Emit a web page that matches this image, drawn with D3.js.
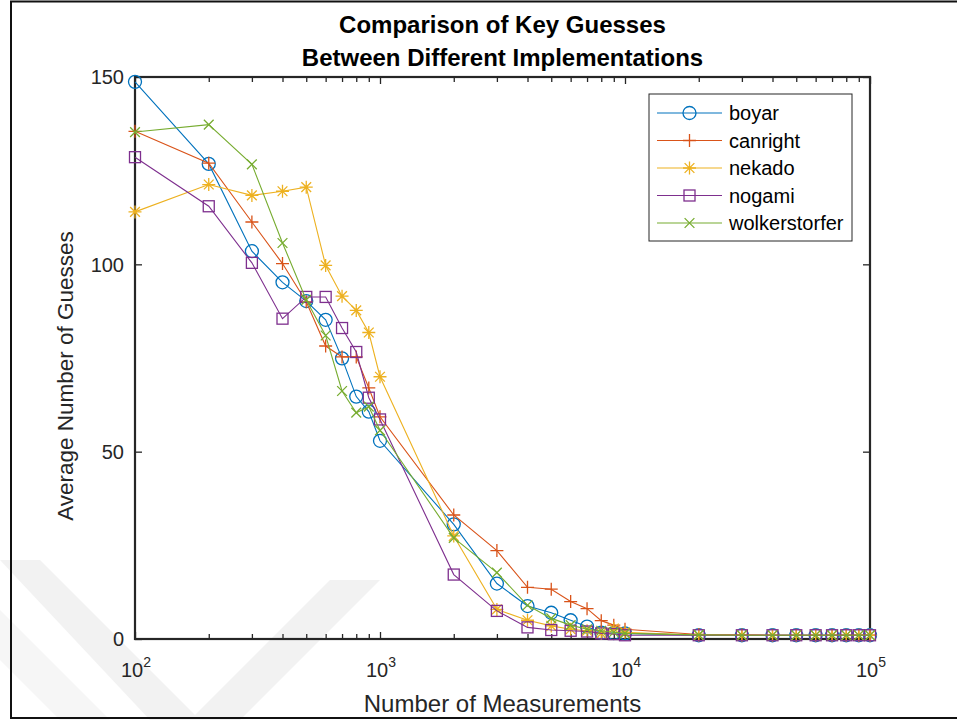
<!DOCTYPE html>
<html><head><meta charset="utf-8">
<script src="https://cdn.jsdelivr.net/npm/d3@7"></script>
<style>body{margin:0;background:#fff;} svg{display:block;font-family:"Liberation Sans",Arial,Helvetica,sans-serif;}</style>
</head><body>
<svg id="chart" width="957" height="720"></svg>
<script>
const measurements = [100,200,300,400,500,600,700,800,900,1000,2000,3000,4000,5000,6000,7000,8000,9000,10000,20000,30000,40000,50000,60000,70000,80000,90000,100000];
const boyar = [148.7,126.8,103.5,95.2,90.2,85.2,74.9,64.7,60.7,52.9,30.6,14.8,8.8,7.0,5.0,3.3,1.7,1.6,1.5,1,1,1,1,1,1,1,1,1];
const canright = [135.5,127.0,111.3,100.2,90.0,78.2,75.3,75.3,67.0,59.3,33.1,23.6,13.8,13.3,10.0,8.1,4.9,3.7,2.6,1.2,1.1,1,1,1,1,1,1,1];
const nekado = [114.0,121.3,118.4,119.5,120.6,99.7,91.5,87.7,81.8,70.0,27.5,7.9,5.0,3.5,2.6,2.2,1.5,2.8,1.8,1,1,1,1,1,1,1,1,1];
const nogami = [128.6,115.5,100.4,85.5,91.3,91.3,83.0,76.6,64.4,58.6,17.2,7.5,3.1,2.4,2.2,2.0,1.5,1.3,1.0,1,1,1,1,1,1,1,1,1];
const wolkerstorfer = [135.3,137.3,126.7,105.7,90.5,81.0,66.2,60.4,62.0,55.7,27.0,17.7,9.0,5.5,3.7,2.6,2.2,1.8,1.5,1.1,1,1,1,1,1,1,1,1];
const seriesNames = ["boyar","canright","nekado","nogami","wolkerstorfer"];
const seriesValues = [boyar,canright,nekado,nogami,wolkerstorfer];
const seriesColors = ["#0072BD","#D95319","#EDB120","#7E2F8E","#77AC30"];
const seriesMarkers = ["circle","plus","asterisk","square","cross"];
const yTicks = [0,50,100,150];
const xMajor = [100,1000,10000,100000];
const xExp = ["2","3","4","5"];
const titleLines = ["Comparison of Key Guesses","Between Different Implementations"];

const svg = d3.select("#chart");
const L=135,R=870,T=77,B=639;
const x = d3.scaleLog().domain([100,100000]).range([L,R]);
const y = d3.scaleLinear().domain([0,150]).range([B,T]);

// faint watermark
const wm = svg.append("g").attr("fill","#f2f2f2");
wm.append("path").attr("d","M0,560 L40,560 L200,720 L150,720 Z");
wm.append("path").attr("d","M190,720 L330,580 L380,580 L240,720 Z");
wm.append("path").attr("d","M0,610 L0,660 L60,720 L110,720 Z").attr("fill","#f6f6f6");

// outer frame
svg.append("rect").attr("x",11).attr("y",1.5).attr("width",960).attr("height",716.5)
  .attr("fill","none").attr("stroke","#111").attr("stroke-width",2);

// axes box and ticks
const minor = [];
for (let d=100; d<100000; d*=10) for (let k=2;k<=9;k++) minor.push(d*k);
const xb = d3.axisBottom(x).tickValues(xMajor).tickSizeInner(-7).tickSizeOuter(0).tickFormat("");
const xt = d3.axisTop(x).tickValues(xMajor).tickSizeInner(-7).tickSizeOuter(0).tickFormat("");
const xbm = d3.axisBottom(x).tickValues(minor).tickSizeInner(-5).tickSizeOuter(0).tickFormat("");
const xtm = d3.axisTop(x).tickValues(minor).tickSizeInner(-5).tickSizeOuter(0).tickFormat("");
const yl = d3.axisLeft(y).tickValues(yTicks).tickSizeInner(-7).tickSizeOuter(0).tickFormat("");
const yr = d3.axisRight(y).tickValues(yTicks).tickSizeInner(-7).tickSizeOuter(0).tickFormat("");
[[xb,`translate(0,${B})`],[xbm,`translate(0,${B})`],[xt,`translate(0,${T})`],[xtm,`translate(0,${T})`],[yl,`translate(${L},0)`],[yr,`translate(${R},0)`]].forEach(([a,tr])=>{
  const g = svg.append("g").attr("transform",tr).call(a);
  g.select(".domain").remove();
  g.selectAll("line").attr("stroke","#262626").attr("stroke-width",1.3);
});
svg.append("rect").attr("x",L).attr("y",T).attr("width",R-L).attr("height",B-T)
  .attr("fill","none").attr("stroke","#262626").attr("stroke-width",2.2);

// tick labels
const tl = svg.append("g").attr("fill","#262626").attr("font-size",20);
yTicks.forEach(v=>{
  tl.append("text").attr("x",L-11).attr("y",y(v)).attr("dy","0.36em").attr("text-anchor","end").text(v);
});
xMajor.forEach((v,i)=>{
  const t = tl.append("text").attr("x",x(v)+1).attr("y",677).attr("text-anchor","middle");
  t.append("tspan").text("10");
  t.append("tspan").attr("dy",-10).attr("font-size",14).text(xExp[i]);
});

// axis labels
svg.append("text").attr("x",(L+R)/2).attr("y",712).attr("text-anchor","middle").attr("font-size",24).attr("fill","#262626").text("Number of Measurements");
svg.append("text").attr("transform",`translate(73,376) rotate(-90)`).attr("text-anchor","middle").attr("font-size",22.5).attr("fill","#262626").text("Average Number of Guesses");
titleLines.forEach((s,i)=>{
  svg.append("text").attr("x",(L+R)/2).attr("y",33+i*33).attr("text-anchor","middle").attr("font-size",24).attr("font-weight","bold").attr("fill","#000").text(s);
});

// markers
function drawMarker(g, type, cx, cy, color){
  const s=6.5;
  if(type==="circle") g.append("circle").attr("cx",cx).attr("cy",cy).attr("r",6.5).attr("fill","none").attr("stroke",color).attr("stroke-width",1.3);
  else if(type==="square") g.append("rect").attr("x",cx-5.5).attr("y",cy-5.5).attr("width",11).attr("height",11).attr("fill","none").attr("stroke",color).attr("stroke-width",1.3);
  else {
    const p = d3.path();
    if(type==="plus"||type==="asterisk"){ p.moveTo(cx-s,cy);p.lineTo(cx+s,cy);p.moveTo(cx,cy-s);p.lineTo(cx,cy+s); }
    if(type==="cross"||type==="asterisk"){ const d=s*0.75; p.moveTo(cx-d,cy-d);p.lineTo(cx+d,cy+d);p.moveTo(cx-d,cy+d);p.lineTo(cx+d,cy-d); }
    g.append("path").attr("d",p.toString()).attr("fill","none").attr("stroke",color).attr("stroke-width",1.3);
  }
}

const plot = svg.append("g");
const line = d3.line().x(d=>x(d[0])).y(d=>y(d[1]));
seriesValues.forEach((vals,i)=>{
  const pts = measurements.map((m,j)=>[m,vals[j]]);
  const g = plot.append("g");
  g.append("path").attr("d",line(pts)).attr("fill","none").attr("stroke",seriesColors[i]).attr("stroke-width",1.1);
  pts.forEach(p=>drawMarker(g,seriesMarkers[i],x(p[0]),y(p[1]),seriesColors[i]));
});

// legend
const lg = svg.append("g");
lg.append("rect").attr("x",649).attr("y",94).attr("width",203).attr("height",147).attr("fill","#fff").attr("stroke","#262626").attr("stroke-width",1);
seriesNames.forEach((n,i)=>{
  const yy = 113 + i*27.5;
  lg.append("line").attr("x1",657).attr("x2",722).attr("y1",yy).attr("y2",yy).attr("stroke",seriesColors[i]).attr("stroke-width",1.1);
  drawMarker(lg,seriesMarkers[i],689.5,yy,seriesColors[i]);
  lg.append("text").attr("x",729).attr("y",yy).attr("dy","0.35em").attr("font-size",20).attr("fill","#000").text(n);
});
</script>
</body></html>
